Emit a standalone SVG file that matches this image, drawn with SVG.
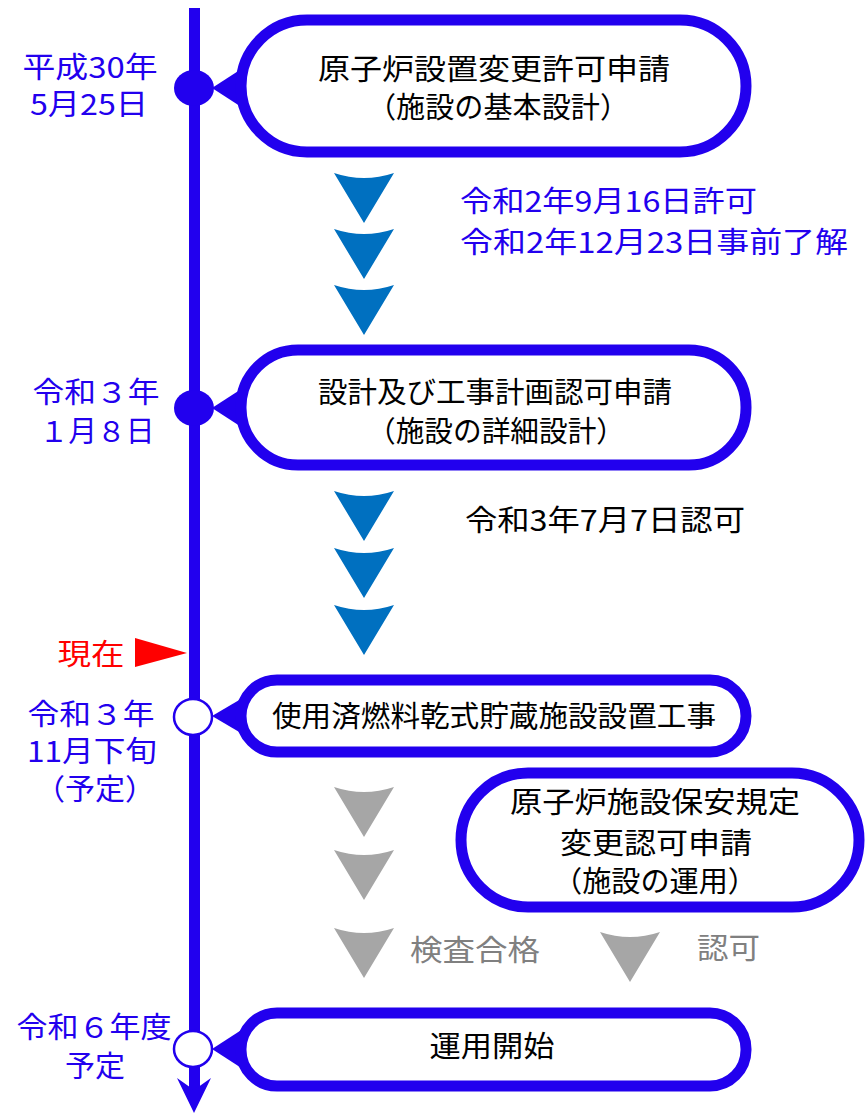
<svg xmlns="http://www.w3.org/2000/svg" width="866" height="1113" viewBox="0 0 866 1113">
<defs>
<style>
.t{font-family:"Noto Sans CJK JP","Noto Sans",sans-serif;font-size:29px}
.k{fill:#000}
.b{fill:#2200ee}
.g{fill:#808080}
.r{fill:#ff0000}
.box{fill:#fff;stroke:#2200ee;stroke-width:11}
.ptr{fill:#2200ee}
.tb{fill:#0070c0}
.tg{fill:#a6a6a6}
</style>
<path id="tri" d="M0,0 Q30,10 60,0 L30,50 Z"/>
</defs>
<rect width="866" height="1113" fill="#fff"/>
<g id="timeline">
<rect x="189" y="8" width="11" height="1084" fill="#2200ee"/>
<path d="M194,1113 L177,1078 L194,1090 L211,1078 Z" fill="#2200ee"/>
</g>
<g id="connectors">
<use href="#tri" class="tb" x="334" y="173"/>
<use href="#tri" class="tb" x="334" y="229"/>
<use href="#tri" class="tb" x="334" y="285"/>
<use href="#tri" class="tb" x="334" y="491"/>
<use href="#tri" class="tb" x="334" y="548"/>
<use href="#tri" class="tb" x="334" y="605"/>
<use href="#tri" class="tg" x="334" y="787"/>
<use href="#tri" class="tg" x="334" y="850"/>
<use href="#tri" class="tg" x="334" y="928"/>
<use href="#tri" class="tg" x="600" y="932"/>
<path d="M135,638 L187,653 L135,667 Z" class="r"/>
</g>
<g id="node1">
<path class="ptr" d="M212,88 L246,66 L246,110 Z"/>
<rect class="box" x="241" y="20" width="505" height="132" rx="66"/>
<text class="t k" x="494" y="80" text-anchor="middle" textLength="352" lengthAdjust="spacingAndGlyphs">原子炉設置変更許可申請</text>
<text class="t k" x="498" y="118" text-anchor="middle" textLength="262" lengthAdjust="spacingAndGlyphs">（施設の基本設計）</text>
<ellipse cx="194" cy="88" rx="20" ry="18" fill="#2200ee"/>
<text class="t b" x="90" y="78" text-anchor="middle" textLength="135" lengthAdjust="spacingAndGlyphs">平成30年</text>
<text class="t b" x="89" y="115" text-anchor="middle" textLength="118" lengthAdjust="spacingAndGlyphs">5月25日</text>
</g>
<g id="label1">
<text class="t b" x="460" y="212" textLength="297" lengthAdjust="spacingAndGlyphs">令和2年9月16日許可</text>
<text class="t b" x="460" y="253" textLength="388" lengthAdjust="spacingAndGlyphs">令和2年12月23日事前了解</text>
</g>
<g id="node2">
<path class="ptr" d="M212,408 L246,386 L246,430 Z"/>
<rect class="box" x="241" y="350" width="505" height="115" rx="57"/>
<text class="t k" x="495" y="403" text-anchor="middle" textLength="354" lengthAdjust="spacingAndGlyphs">設計及び工事計画認可申請</text>
<text class="t k" x="496" y="442" text-anchor="middle" textLength="258" lengthAdjust="spacingAndGlyphs">（施設の詳細設計）</text>
<ellipse cx="194" cy="408" rx="20" ry="18" fill="#2200ee"/>
<text class="t b" x="96" y="403" text-anchor="middle" textLength="127" lengthAdjust="spacingAndGlyphs">令和３年</text>
<text class="t b" x="97" y="442" text-anchor="middle" textLength="115" lengthAdjust="spacingAndGlyphs">１月８日</text>
</g>
<g id="label2">
<text class="t k" x="465" y="531" textLength="280" lengthAdjust="spacingAndGlyphs">令和3年7月7日認可</text>
</g>
<g id="now">
<text class="t r" x="91" y="665" text-anchor="middle" textLength="67" lengthAdjust="spacingAndGlyphs">現在</text>
</g>
<g id="node3">
<path class="ptr" d="M212,716 L246,696 L246,736 Z"/>
<rect class="box" x="241" y="680" width="505" height="72" rx="36"/>
<text class="t k" x="494" y="727" text-anchor="middle" textLength="444" lengthAdjust="spacingAndGlyphs">使用済燃料乾式貯蔵施設設置工事</text>
<ellipse cx="193" cy="717" rx="19" ry="18" fill="#fff" stroke="#2200ee" stroke-width="2.5"/>
<text class="t b" x="91" y="725" text-anchor="middle" textLength="127" lengthAdjust="spacingAndGlyphs">令和３年</text>
<text class="t b" x="92" y="762" text-anchor="middle" textLength="130" lengthAdjust="spacingAndGlyphs">11月下旬</text>
<text class="t b" x="95" y="800" text-anchor="middle" textLength="120" lengthAdjust="spacingAndGlyphs">（予定）</text>
</g>
<g id="node5">
<rect class="box" x="461" y="773" width="398" height="134" rx="67"/>
<text class="t k" x="655" y="813" text-anchor="middle" textLength="290" lengthAdjust="spacingAndGlyphs">原子炉施設保安規定</text>
<text class="t k" x="656" y="854" text-anchor="middle" textLength="192" lengthAdjust="spacingAndGlyphs">変更認可申請</text>
<text class="t k" x="655" y="892" text-anchor="middle" textLength="204" lengthAdjust="spacingAndGlyphs">（施設の運用）</text>
</g>
<g id="label3">
<text class="t g" x="410" y="961" textLength="130" lengthAdjust="spacingAndGlyphs">検査合格</text>
<text class="t g" x="697" y="959" textLength="63" lengthAdjust="spacingAndGlyphs">認可</text>
</g>
<g id="node4">
<path class="ptr" d="M212,1049 L246,1027 L246,1071 Z"/>
<rect class="box" x="241" y="1013" width="505" height="73" rx="36"/>
<text class="t k" x="492" y="1057" text-anchor="middle" textLength="125" lengthAdjust="spacingAndGlyphs">運用開始</text>
<ellipse cx="193" cy="1049" rx="19" ry="18" fill="#fff" stroke="#2200ee" stroke-width="2.5"/>
<text class="t b" x="94" y="1038" text-anchor="middle" textLength="155" lengthAdjust="spacingAndGlyphs">令和６年度</text>
<text class="t b" x="95" y="1077" text-anchor="middle" textLength="60" lengthAdjust="spacingAndGlyphs">予定</text>
</g>
</svg>
